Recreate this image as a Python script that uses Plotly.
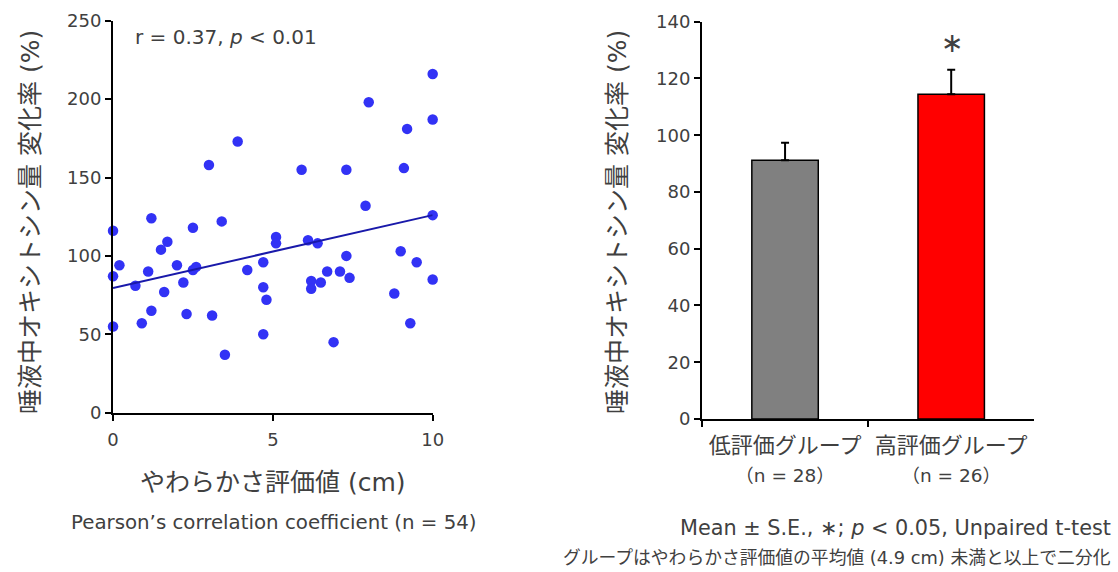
import plotly.graph_objects as go

# ---- scatter data (softness score vs oxytocin change) ----
softness_cm = [0, 1.2, 3.4, 2.5, 0.2, 0, 0.7, 1.1, 1.5, 1.7, 2.0, 1.6, 2.2, 2.5, 2.6,
               0, 0.9, 1.2, 2.3, 3.1, 3.5, 4.2, 4.7, 4.7, 4.8, 4.7, 5.1, 5.1, 6.1, 6.4,
               6.2, 6.2, 6.5, 6.7, 7.1, 7.3, 7.4, 6.9, 7.9, 10, 9.0, 9.5, 10, 8.8, 9.3,
               10, 8.0, 10, 9.2, 3.9, 3.0, 5.9, 7.3, 9.1]
oxytocin_pct = [116, 124, 122, 118, 94, 87, 81, 90, 104, 109, 94, 77, 83, 91, 93,
                55, 57, 65, 63, 62, 37, 91, 96, 80, 72, 50, 112, 108, 110, 108,
                84, 79, 83, 90, 90, 100, 86, 45, 132, 126, 103, 96, 85, 76, 57,
                216, 198, 187, 181, 173, 158, 155, 155, 156]
fit_x = [0, 10]
fit_intercept = 79.5
fit_slope = 4.65

# ---- bar data ----
groups = ["低評価グループ", "高評価グループ"]
group_n = [28, 26]
group_mean = [91.2, 114.4]
group_se = [6.1, 8.7]
bar_colors = ["#808080", "#ff0000"]

FONT = "DejaVu Sans, Noto Sans CJK JP, sans-serif"
TXT = "#404040"

fig = go.Figure()

fig.add_trace(go.Scatter(
    x=softness_cm, y=oxytocin_pct, mode="markers",
    marker=dict(color="rgb(50,50,245)", size=10.5, line=dict(width=0)),
    cliponaxis=False, xaxis="x", yaxis="y", showlegend=False))

fig.add_trace(go.Scatter(
    x=fit_x, y=[fit_intercept + fit_slope * v for v in fit_x], mode="lines",
    line=dict(color="rgb(25,25,170)", width=2),
    cliponaxis=False, xaxis="x", yaxis="y", showlegend=False))

tick_labels = [f"{g}<br><span style='font-size:18.5px'>（n = {n}）</span>"
               for g, n in zip(groups, group_n)]

fig.add_trace(go.Bar(
    x=groups, y=group_mean, width=0.4,
    marker=dict(color=bar_colors, line=dict(color="black", width=1.5)),
    error_y=dict(type="data", array=group_se, arrayminus=[0, 0], symmetric=False,
                 color="black", thickness=2, width=4),
    xaxis="x2", yaxis="y2", showlegend=False))

axis_common = dict(showline=True, linecolor="black", linewidth=2, ticks="outside",
                   ticklen=6, tickwidth=2, tickcolor="black", showgrid=False,
                   zeroline=False, automargin=False)
tf = dict(family=FONT, size=18, color=TXT)

fig.update_layout(
    width=1118, height=572,
    margin=dict(l=0, r=0, t=0, b=0, pad=0, autoexpand=False),
    paper_bgcolor="white", plot_bgcolor="white",
    font=dict(family=FONT, color=TXT),
    xaxis=dict(domain=[0.1011, 0.387], range=[0, 10], tickvals=[0, 5, 10],
               anchor="y", tickfont=tf, ticklabelstandoff=4, **axis_common),
    yaxis=dict(domain=[0.2785, 0.9638], range=[0, 250], tickvals=[0, 50, 100, 150, 200, 250],
               anchor="x", tickfont=tf, **axis_common),
    xaxis2=dict(domain=[0.6279, 0.9251], anchor="y2", tickmode="array",
                tickvals=groups, ticktext=tick_labels, tickson="boundaries",
                ticklabelstandoff=6,
                tickfont=dict(family=FONT, size=22, color=TXT), **axis_common),
    yaxis2=dict(domain=[0.2675, 0.9621], range=[0, 140], tickvals=list(range(0, 141, 20)),
                anchor="x2", tickfont=tf, **axis_common),
)

ytitle = "唾液中オキシトシン量 変化率 (%)"
annots = [
    dict(text=ytitle, x=30, y=222, textangle=-90, font=dict(size=25)),
    dict(text=ytitle, x=617, y=222, textangle=-90, font=dict(size=25)),
    dict(text="やわらかさ評価値 (cm)", x=273, y=482, font=dict(size=25)),
    dict(text="Pearson’s correlation coefficient (n = 54)", x=274, y=522, font=dict(size=19.8)),
    dict(text="r = 0.37, <i>p</i> < 0.01", x=133, y=37, xanchor="left", font=dict(size=20)),
    dict(text="∗", x=952, y=42, font=dict(size=27)),
    dict(text="Mean ± S.E., ∗; <i>p</i> < 0.05, Unpaired t-test", x=1113, y=528,
         xanchor="right", font=dict(size=20.8)),
    dict(text="グループはやわらかさ評価値の平均値 (4.9 cm) 未満と以上で二分化", x=1113, y=557,
         xanchor="right", font=dict(size=17.8)),
]
for a in annots:
    px, py = a.pop("x"), a.pop("y")
    a.setdefault("xanchor", "center")
    fig.add_annotation(xref="paper", yref="paper", x=px / 1118, y=1 - py / 572,
                       yanchor="middle", showarrow=False, **a)

fig.write_html("out.html", config={"displayModeBar": False},
               post_script="document.body.style.margin='0px';document.body.style.overflow='hidden';")
